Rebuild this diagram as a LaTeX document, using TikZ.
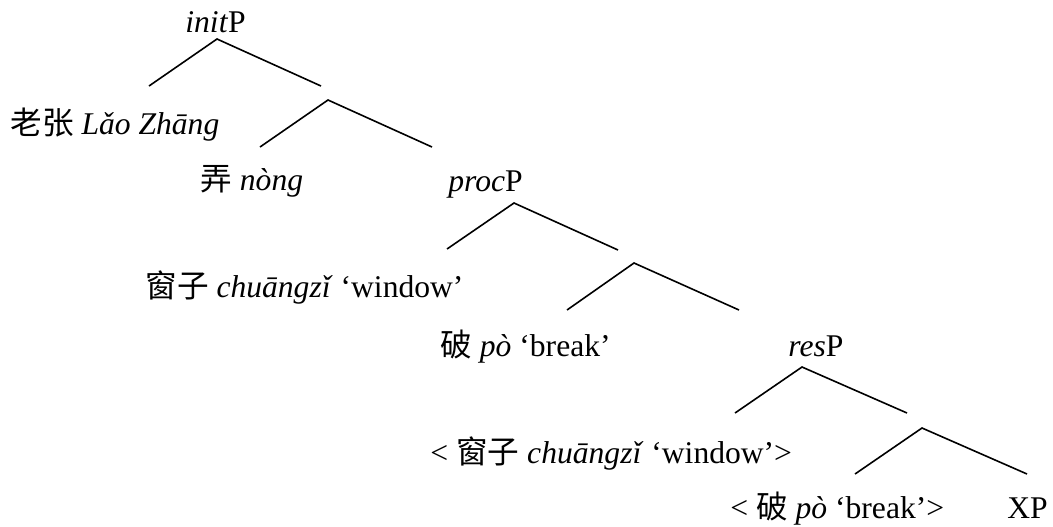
\documentclass[tikz,border=0pt]{standalone}
\usepackage{fontspec}
\setmainfont{Liberation Serif}
\newfontfamily\cjk{Noto Sans CJK SC}
\usepackage{tikz}

\begin{document}
\begin{tikzpicture}[x = 0.5pt , y = -0.5pt ,
    lbl/.style = {anchor = base west , inner sep = 0pt , font = \fontsize{15.8}{18}\selectfont},
    branch/.style = {line width = 0.8pt}]
    \useasboundingbox (0,0) rectangle (1053,526);
    % Ετικέτες
    \node[lbl] (initp) at (185,32) {\textit{init}P};
    \node[lbl] (lao) at (10,134) {{\cjk 老张} \textit{Lǎo Zhāng}};
    \node[lbl] (nong) at (200,190) {{\cjk 弄} \textit{nòng}};
    \node[lbl] (procp) at (448,191) {\textit{proc}P};
    \node[lbl] (chuang) at (145,297) {{\cjk 窗子} \textit{chuāngzǐ} ‘window’};
    \node[lbl] (po) at (440,356) {{\cjk 破} \textit{pò} ‘break’};
    \node[lbl] (resp) at (788,356) {\textit{res}P};
    \node[lbl] (chuangt) at (430,463) {< {\cjk 窗子} \textit{chuāngzǐ} ‘window’>};
    \node[lbl] (pot) at (730,518) {< {\cjk 破} \textit{pò} ‘break’>};
    \node[lbl] (xp) at (1007,518) {XP};
    % Κορυφές και άκρα
    \coordinate (a1) at (217,39);  \coordinate (l1) at (149,86);  \coordinate (r1) at (321,86);
    \coordinate (a2) at (328,100); \coordinate (l2) at (260,147); \coordinate (r2) at (432,147);
    \coordinate (a3) at (514,203); \coordinate (l3) at (447,249); \coordinate (r3) at (618,250);
    \coordinate (a4) at (634,263); \coordinate (l4) at (567,310); \coordinate (r4) at (739,310);
    \coordinate (a5) at (802,367); \coordinate (l5) at (735,413); \coordinate (r5) at (907,413);
    \coordinate (a6) at (922,428); \coordinate (l6) at (855,474); \coordinate (r6) at (1027,474);
    \foreach \n in {1,...,6}
        \draw[branch] (l\n) -- (a\n) -- (r\n);
\end{tikzpicture}
\end{document}
